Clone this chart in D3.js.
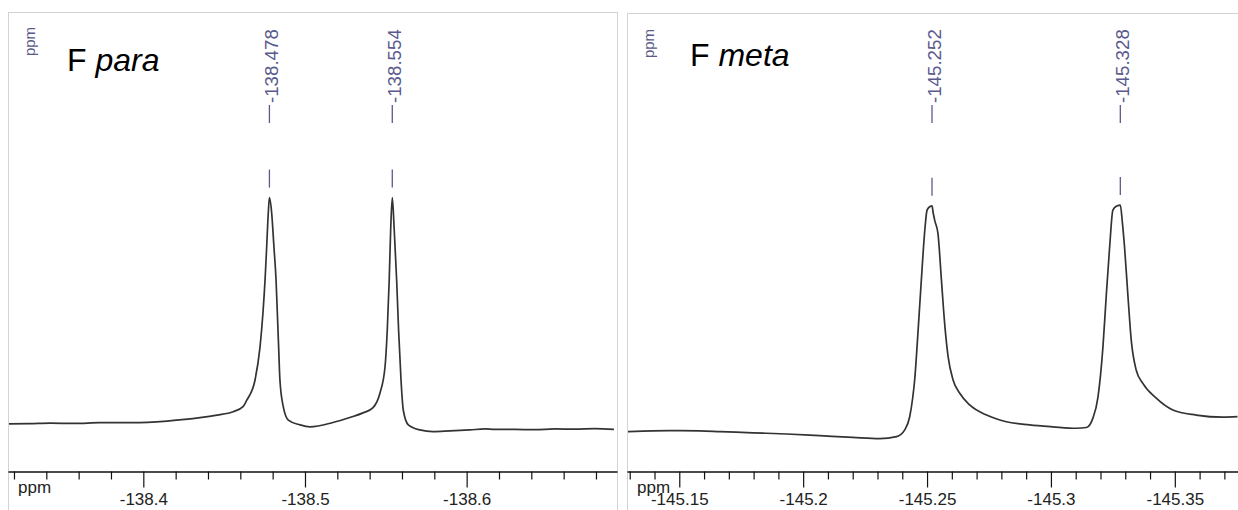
<!DOCTYPE html>
<html>
<head>
<meta charset="utf-8">
<script src="https://cdn.jsdelivr.net/npm/d3@7"></script>
<style>
  html, body { margin: 0; padding: 0; background: #fff; }
  svg { display: block; font-family: "Liberation Sans", Arial, Helvetica, sans-serif; }
</style>
</head>
<body>
<svg id="chart" width="1238" height="510"></svg>
<script>
// 19F NMR traces: para and meta fluorine doublets (chemical shift in ppm, relative intensity)

const paraShift = [
  -138.3163, -138.3299, -138.3423, -138.3578, -138.3732, -138.3936, -138.4147, -138.4351,
  -138.4456, -138.4555, -138.4617, -138.4641, -138.4691, -138.4722, -138.4740, -138.4753,
  -138.4763, -138.4773, -138.4780, -138.4794, -138.4808, -138.4821, -138.4829, -138.4837,
  -138.4845, -138.4866, -138.4897, -138.4969, -138.5031, -138.5173, -138.5278, -138.5359,
  -138.5421, -138.5464, -138.5495, -138.5509, -138.5521, -138.5530, -138.5540, -138.5552,
  -138.5567, -138.5579, -138.5594, -138.5608, -138.5639, -138.5711, -138.5792, -138.5897,
  -138.6020, -138.6113, -138.6175, -138.6299, -138.6422, -138.6546, -138.6670, -138.6793,
  -138.6911
];
const paraIntensity = [
  6.7, 6.8, 7.0, 6.9, 7.2, 7.2, 7.9, 9.3,
  10.4, 11.8, 13.9, 16.7, 25.0, 38.8, 52.9, 66.7,
  80.4, 94.6, 101.0, 94.6, 80.4, 66.7, 52.9, 38.8,
  25.0, 13.8, 8.3, 6.3, 5.5, 7.3, 9.4, 11.3,
  13.5, 19.6, 30.4, 45.8, 66.7, 87.5, 101.0, 87.5,
  66.7, 45.8, 25.0, 12.5, 6.3, 4.2, 3.5, 3.8,
  4.2, 4.6, 4.4, 4.4, 4.3, 4.6, 4.5, 4.7,
  4.4
];

const metaShift = [
  -145.1289, -145.1394, -145.1503, -145.1583, -145.1664, -145.1797, -145.1934, -145.2067,
  -145.2200, -145.2309, -145.2377, -145.2410, -145.2430, -145.2442, -145.2450, -145.2464,
  -145.2477, -145.2491, -145.2500, -145.2511, -145.2520, -145.2524, -145.2531, -145.2544,
  -145.2558, -145.2571, -145.2585, -145.2605, -145.2632, -145.2672, -145.2740, -145.2820,
  -145.2914, -145.3008, -145.3102, -145.3143, -145.3169, -145.3190, -145.3210, -145.3223,
  -145.3237, -145.3250, -145.3266, -145.3280, -145.3288, -145.3297, -145.3311, -145.3324,
  -145.3344, -145.3371, -145.3425, -145.3492, -145.3586, -145.3694, -145.3753
];
const metaIntensity = [
  3.5, 3.8, 3.9, 3.8, 3.5, 3.0, 2.5, 1.8,
  1.1, 0.6, 1.4, 4.2, 9.7, 17.5, 25.0, 45.8,
  66.7, 87.5, 95.8, 97.2, 97.6, 95.1, 91.5, 86.1,
  66.7, 48.6, 34.7, 25.0, 19.5, 14.6, 10.4, 7.6,
  6.3, 5.5, 4.9, 5.2, 9.0, 18.0, 38.9, 59.7,
  80.5, 95.8, 97.5, 97.9, 91.0, 80.5, 59.7, 41.7,
  29.2, 23.6, 17.4, 12.5, 10.4, 9.5, 9.7
];

// picked peaks
const paraPeaks = [-138.478, -138.554];
const metaPeaks = [-145.252, -145.328];

// visible shift windows (left edge, right edge)
const paraWindow = [-138.3163, -138.6930];
const metaWindow = [-145.1289, -145.3755];

// axis ticks
const paraMajorTicks = [-138.4, -138.5, -138.6];
const paraTickLabels = ["-138.4", "-138.5", "-138.6"];
const paraMinorTicks = [-138.32, -138.34, -138.36, -138.38, -138.42, -138.44, -138.46, -138.48,
                        -138.52, -138.54, -138.56, -138.58, -138.62, -138.64, -138.66, -138.68];
const metaMajorTicks = [-145.15, -145.2, -145.25, -145.3, -145.35];
const metaTickLabels = ["-145.15", "-145.2", "-145.25", "-145.3", "-145.35"];
const metaMinorTicks = [-145.13, -145.14, -145.16, -145.17, -145.18, -145.19, -145.21, -145.22,
                        -145.23, -145.24, -145.26, -145.27, -145.28, -145.29, -145.31, -145.32,
                        -145.33, -145.34, -145.36, -145.37];

const panels = [
  { name: "para", shift: paraShift, intensity: paraIntensity, peaks: paraPeaks, window: paraWindow,
    major: paraMajorTicks, labels: paraTickLabels, minor: paraMinorTicks,
    x0: 8, x1: 617, top: 12.5, titleY: 71, ppmY: 41.5 },
  { name: "meta", shift: metaShift, intensity: metaIntensity, peaks: metaPeaks, window: metaWindow,
    major: metaMajorTicks, labels: metaTickLabels, minor: metaMinorTicks,
    x0: 627, x1: 1238, top: 13.5, titleY: 66, ppmY: 43.5 }
];

const svg = d3.select("#chart");
const axisY = 471.5;
const peakColor = "#5a5a8c";
const y = d3.scaleLinear().domain([0, 100]).range([440, 200]);

panels.forEach((p, pi) => {
  const g = svg.append("g");
  const x = d3.scaleLinear().domain(p.window).range([p.x0, p.x1]);

  // panel frame
  g.append("rect")
    .attr("x", p.x0 + 0.5).attr("y", p.top)
    .attr("width", p.x1 - p.x0).attr("height", 600)
    .attr("fill", "none").attr("stroke", "#d3d3d3").attr("stroke-width", 1);

  const clipId = "clip-" + p.name;
  svg.append("clipPath").attr("id", clipId)
    .append("rect").attr("x", p.x0 + 1).attr("y", p.top).attr("width", p.x1 - p.x0 - 1).attr("height", 460);

  // spectrum trace
  const pts = p.shift.map((s, i) => [s, p.intensity[i]]);
  const line = d3.line().x(d => x(d[0])).y(d => y(d[1])).curve(d3.curveMonotoneX);
  g.append("path")
    .attr("clip-path", "url(#" + clipId + ")")
    .attr("d", line(pts))
    .attr("fill", "none").attr("stroke", "#333").attr("stroke-width", 1.7)
    .attr("stroke-linejoin", "round");

  // peak markers and labels
  p.peaks.forEach(pk => {
    const near = pts.filter(d => Math.abs(d[0] - pk) < 0.004);
    const apex = d3.max(near, d => d[1]);
    const px = x(pk);
    const bottom = y(apex) - 10;
    g.append("line")
      .attr("x1", px).attr("x2", px).attr("y1", bottom - 18).attr("y2", bottom)
      .attr("stroke", peakColor).attr("stroke-width", 1.3);
    g.append("line")
      .attr("x1", px).attr("x2", px).attr("y1", 105).attr("y2", 123)
      .attr("stroke", peakColor).attr("stroke-width", 1.3);
    g.append("text")
      .attr("transform", `translate(${px + 9},103) rotate(-90)`)
      .attr("font-size", 18.7).attr("fill", peakColor)
      .text(pk.toFixed(3));
  });

  // vertical unit label
  g.append("text")
    .attr("transform", `translate(${p.x0 + 27},${p.ppmY}) rotate(-90)`)
    .attr("text-anchor", "middle")
    .attr("font-size", 15).attr("fill", peakColor)
    .text("ppm");

  // nucleus title
  const t = g.append("text")
    .attr("x", pi === 0 ? 67 : 690).attr("y", p.titleY)
    .attr("font-size", 32).attr("fill", "#000");
  t.append("tspan").text("F ");
  t.append("tspan").attr("font-style", "italic").text(p.name);

  // bottom axis: minor ticks, then labelled major ticks
  const minorAxis = d3.axisBottom(x).tickValues(p.minor).tickFormat("").tickSizeInner(8).tickSizeOuter(0);
  const majorAxis = d3.axisBottom(x).tickValues(p.major)
    .tickFormat((d, i) => p.labels[i]).tickSizeInner(16).tickSizeOuter(0).tickPadding(5.5);

  const gMinor = g.append("g").attr("transform", `translate(0,${axisY})`).call(minorAxis);
  const gMajor = g.append("g").attr("transform", `translate(0,${axisY})`).call(majorAxis);
  [gMinor, gMajor].forEach(a => {
    a.select(".domain").attr("stroke", "#111").attr("stroke-width", 1.2);
    a.selectAll(".tick line").attr("stroke", "#111").attr("stroke-width", 1.2);
  });
  gMajor.selectAll(".tick text")
    .attr("font-family", "\"Liberation Sans\", Arial, sans-serif")
    .attr("font-size", 17).attr("fill", "#222");

  g.append("text")
    .attr("x", p.x0 + 10).attr("y", 493)
    .attr("font-size", 17).attr("fill", "#222")
    .text("ppm");
});
</script>
</body>
</html>
